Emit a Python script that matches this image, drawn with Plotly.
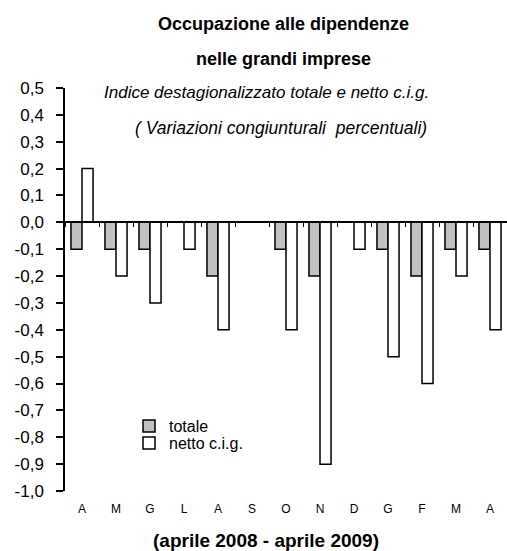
import plotly.graph_objects as go

months = ["A", "M", "G", "L", "A", "S", "O", "N", "D", "G", "F", "M", "A"]
totale = [-0.1, -0.1, -0.1, 0.0, -0.2, 0.0, -0.1, -0.2, 0.0, -0.1, -0.2, -0.1, -0.1]
netto = [0.2, -0.2, -0.3, -0.1, -0.4, 0.0, -0.4, -0.9, -0.1, -0.5, -0.6, -0.2, -0.4]
y_ticks = [0.5, 0.4, 0.3, 0.2, 0.1, 0.0, -0.1, -0.2, -0.3, -0.4, -0.5, -0.6, -0.7, -0.8, -0.9, -1.0]
y_labels = ["0,5", "0,4", "0,3", "0,2", "0,1", "0,0", "-0,1", "-0,2", "-0,3", "-0,4",
            "-0,5", "-0,6", "-0,7", "-0,8", "-0,9", "-1,0"]

idx = list(range(len(months)))
boundaries = [i - 0.5 for i in range(len(months) + 1)]
FONT = "Liberation Sans, Arial, sans-serif"

W, H = 507, 551
L, R, T, B = 65, 0, 88, 60
PW, PH = W - L - R, H - T - B


def px(xpx):
    return (xpx - L) / PW


def py(ypx):
    return (H - B - ypx) / PH


fig = go.Figure()
fig.add_trace(go.Bar(x=idx, y=totale, name="totale", legend="legend",
                     marker=dict(color="#c0c0c0", line=dict(color="black", width=1.5))))
fig.add_trace(go.Bar(x=idx, y=netto, name="netto c.i.g.", legend="legend2",
                     marker=dict(color="white", line=dict(color="black", width=1.5))))
# invisible helper trace for the month-label axis
fig.add_trace(go.Scatter(x=idx, y=[None] * len(idx), xaxis="x2", showlegend=False, hoverinfo="skip"))

ymin, ymax = -1.0, 0.5
zero_pos = (0 - ymin) / (ymax - ymin)

leg_common = dict(xanchor="left", yanchor="middle", bgcolor="rgba(0,0,0,0)",
                  font=dict(size=16, family=FONT), itemwidth=30)

fig.update_layout(
    width=W, height=H,
    margin=dict(l=L, r=R, t=T, b=B),
    paper_bgcolor="white", plot_bgcolor="white",
    barmode="group", bargap=0.35, bargroupgap=0,
    font=dict(family=FONT, color="black"),
    showlegend=True,
    legend=dict(x=px(129), y=py(426), **leg_common),
    legend2=dict(x=px(129), y=py(443), **leg_common),
    xaxis=dict(range=[-0.5, len(months) - 0.5], anchor="free", position=zero_pos,
               showline=True, linecolor="black", linewidth=1.5,
               tickvals=boundaries, ticks="outside", ticklen=4, tickwidth=1, tickcolor="black",
               showticklabels=False, showgrid=False, zeroline=False),
    xaxis2=dict(range=[-0.5, len(months) - 0.5], overlaying="x", anchor="y", side="bottom",
                tickvals=idx, ticktext=months, showline=False, ticks="", showgrid=False,
                zeroline=False, tickfont=dict(size=12, family=FONT), ticklabelstandoff=9),
    yaxis=dict(range=[ymin, ymax], tickvals=y_ticks, ticktext=y_labels,
               showline=True, linecolor="black", linewidth=1.5,
               ticks="outside", ticklen=7, tickwidth=1.5, tickcolor="black",
               showgrid=False, zeroline=False, tickfont=dict(size=17, family=FONT),
               ticklabelstandoff=9),
)

anns = [
    dict(text="<b>Occupazione alle dipendenze</b>", x=283, y=24, size=18),
    dict(text="<b>nelle grandi imprese</b>", x=283, y=59, size=18),
    dict(text="<i>Indice destagionalizzato totale e netto c.i.g.</i>", x=266, y=92, size=17),
    dict(text="<i>( Variazioni congiunturali  percentuali)</i>", x=281, y=128, size=17.5),
    dict(text="<b>(aprile 2008 - aprile 2009)</b>", x=266, y=540, size=19),
]
for a in anns:
    fig.add_annotation(text=a["text"], xref="paper", yref="paper", x=px(a["x"]), y=py(a["y"]),
                       xanchor="center", yanchor="middle", showarrow=False,
                       font=dict(size=a["size"], family=FONT, color="black"))

fig.write_html("out.html", config={"displayModeBar": False},
               post_script="document.body.style.margin='0';document.body.style.overflow='hidden';")
